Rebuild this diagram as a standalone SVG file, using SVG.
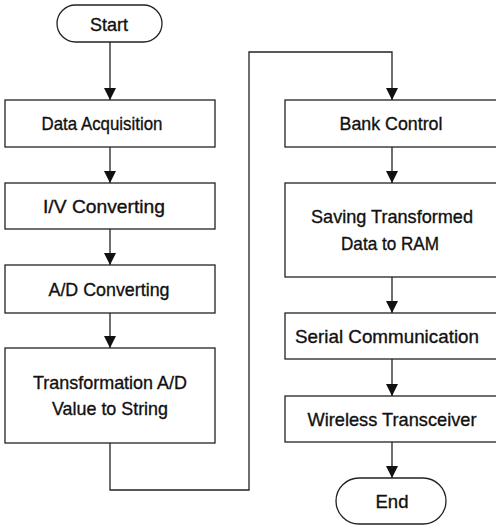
<svg xmlns="http://www.w3.org/2000/svg" width="496" height="528" viewBox="0 0 496 528">
<style>
.box{fill:#fff;stroke:#222;stroke-width:1.3}
.ln{fill:none;stroke:#222;stroke-width:1.3}
text{font-family:"Liberation Sans Narrow","Liberation Sans",Arial,sans-serif;font-size:19px;fill:#111;stroke:#111;stroke-width:0.35;text-anchor:middle}
</style>
<defs>
<marker id="ah" markerUnits="userSpaceOnUse" markerWidth="12" markerHeight="14" refX="12" refY="6" orient="auto" viewBox="0 0 12 12">
<path d="M0,0 L12,6 L0,12 Z" fill="#111"/>
</marker>
</defs>
<rect width="496" height="528" fill="#fff"/>
<g id="connectors">
<line class="ln" x1="110" y1="42" x2="110" y2="100" marker-end="url(#ah)"/>
<line class="ln" x1="110" y1="147" x2="110" y2="183" marker-end="url(#ah)"/>
<line class="ln" x1="110" y1="229" x2="110" y2="265" marker-end="url(#ah)"/>
<line class="ln" x1="110" y1="313" x2="110" y2="348" marker-end="url(#ah)"/>
<path class="ln" d="M110,443 V490 H249 V52 H392 V100" marker-end="url(#ah)"/>
<line class="ln" x1="392" y1="147" x2="392" y2="183" marker-end="url(#ah)"/>
<line class="ln" x1="392" y1="277" x2="392" y2="313" marker-end="url(#ah)"/>
<line class="ln" x1="392" y1="359" x2="392" y2="396" marker-end="url(#ah)"/>
<line class="ln" x1="392" y1="442" x2="392" y2="478" marker-end="url(#ah)"/>
</g>
<g id="start">
<rect class="box" x="57" y="5" width="105" height="37" rx="18.5"/>
<text x="109" y="31" font-size="18" textLength="38" lengthAdjust="spacingAndGlyphs">Start</text>
</g>
<g id="data-acquisition">
<rect class="box" x="5" y="100" width="210" height="47"/>
<text x="102" y="130" textLength="121" lengthAdjust="spacingAndGlyphs">Data Acquisition</text>
</g>
<g id="iv-converting">
<rect class="box" x="5" y="183" width="210" height="46"/>
<text x="104" y="213" textLength="122" lengthAdjust="spacingAndGlyphs">I/V Converting</text>
</g>
<g id="ad-converting">
<rect class="box" x="5" y="265" width="210" height="48"/>
<text x="109" y="296" textLength="121" lengthAdjust="spacingAndGlyphs">A/D Converting</text>
</g>
<g id="transformation">
<rect class="box" x="5" y="348" width="210" height="95"/>
<text x="110" y="389" textLength="154" lengthAdjust="spacingAndGlyphs">Transformation A/D</text>
<text x="110" y="415" textLength="116" lengthAdjust="spacingAndGlyphs">Value to String</text>
</g>
<g id="bank-control">
<rect class="box" x="285" y="100" width="214" height="47"/>
<text x="391" y="130" textLength="103" lengthAdjust="spacingAndGlyphs">Bank Control</text>
</g>
<g id="saving">
<rect class="box" x="285" y="183" width="214" height="94"/>
<text x="392" y="223" textLength="162" lengthAdjust="spacingAndGlyphs">Saving Transformed</text>
<text x="390" y="250" textLength="98" lengthAdjust="spacingAndGlyphs">Data to RAM</text>
</g>
<g id="serial">
<rect class="box" x="285" y="313" width="214" height="46"/>
<text x="387" y="343" textLength="184" lengthAdjust="spacingAndGlyphs">Serial Communication</text>
</g>
<g id="wireless">
<rect class="box" x="285" y="396" width="214" height="46"/>
<text x="392" y="426" textLength="169" lengthAdjust="spacingAndGlyphs">Wireless Transceiver</text>
</g>
<g id="end">
<rect class="box" x="336" y="478" width="110" height="46" rx="23"/>
<text x="392" y="508" font-size="18" textLength="33" lengthAdjust="spacingAndGlyphs">End</text>
</g>
</svg>
